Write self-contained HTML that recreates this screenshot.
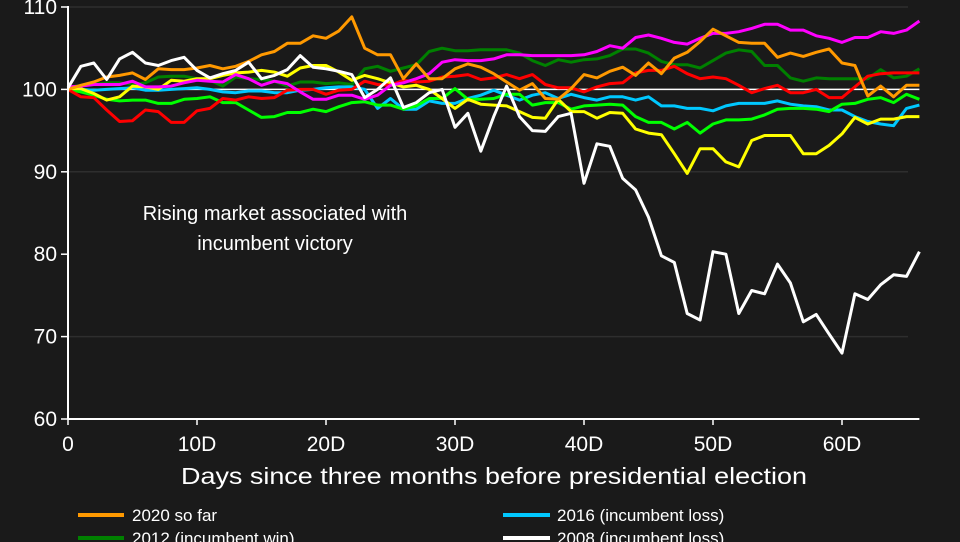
<!DOCTYPE html>
<html><head><meta charset="utf-8"><style>
html,body{margin:0;padding:0;background:#1a1a1a;}
svg{display:block;font-family:"Liberation Sans",sans-serif;}
</style></head><body>
<svg id="chart" width="960" height="542" viewBox="0 0 960 542" xmlns="http://www.w3.org/2000/svg">
<rect width="960" height="542" fill="#1a1a1a"/>
<g id="grid"></g>
<g id="series"></g>
<g id="axes"></g>
<text x="275" y="220" fill="#fff" font-size="20" text-anchor="middle">Rising market associated with</text>
<text x="275" y="250" fill="#fff" font-size="20" text-anchor="middle">incumbent victory</text>
<text x="494" y="484" fill="#fff" font-size="23" text-anchor="middle" textLength="626" lengthAdjust="spacingAndGlyphs">Days since three months before presidential election</text>
<g>
<g><line x1="78" y1="515" x2="124" y2="515" stroke="#ff9900" stroke-width="4"/><text x="132" y="521" fill="#fff" font-size="17">2020 so far</text></g>
<g><line x1="503" y1="515" x2="550" y2="515" stroke="#00c8ff" stroke-width="4"/><text x="557" y="521" fill="#fff" font-size="17">2016 (incumbent loss)</text></g>
<g><line x1="78" y1="538" x2="124" y2="538" stroke="#008000" stroke-width="4"/><text x="132" y="544" fill="#fff" font-size="17">2012 (incumbent win)</text></g>
<g><line x1="503" y1="538" x2="550" y2="538" stroke="#ffffff" stroke-width="4"/><text x="557" y="544" fill="#fff" font-size="17">2008 (incumbent loss)</text></g>
</g>
</svg>
<script>
const yTicks = [60, 70, 80, 90, 100, 110];
const xTicks = [0, 10, 20, 30, 40, 50, 60];
const xTickLabels = ["0", "10D", "20D", "30D", "40D", "50D", "60D"];
const gridValues = [110, 90, 70];
const s2012 = [100.2,100.5,100.6,100.8,100.8,100.6,100.8,101.5,101.6,101.6,101.3,101.1,100.4,101.5,101.3,101.2,101,100.4,100.9,100.9,100.7,100.8,100.6,102.5,102.8,102.2,102.6,103,104.6,105,104.7,104.7,104.8,104.8,104.8,104.4,103.5,102.9,103.6,103.3,103.6,103.7,104.1,104.9,104.9,104.4,103.4,103,103,102.6,103.5,104.4,104.8,104.6,102.9,102.9,101.4,101,101.4,101.3,101.3,101.3,101.3,102.4,101.4,101.6,102.5];
const s2016 = [100,100,99.9,100,100.1,100.2,99.9,99.9,100,100.1,100.2,100,99.7,99.6,99.8,99.8,99.6,99.6,99.9,100,100.2,100.3,100.3,100,97.7,98.9,97.6,97.6,98.6,98.3,98.3,98.9,99.3,99.9,99.3,98.7,99.3,99.6,98.9,99.4,99,98.7,99.1,99.1,98.7,99.1,98,98,97.7,97.7,97.4,98,98.3,98.3,98.3,98.6,98.2,98,97.9,97.5,97.5,96.7,96.1,95.8,95.6,97.7,98.1];
const sLime = [100,99.7,99.3,98.8,98.6,98.7,98.7,98.3,98.3,98.8,98.9,99.1,98.4,98.4,97.5,96.6,96.7,97.2,97.2,97.6,97.3,97.9,98.4,98.5,98.1,98.1,97.6,98,98.9,98.9,100.1,98.8,98.8,98.9,99.4,99.4,98.1,98.4,98.4,97.6,98,98.1,98.2,98.1,96.7,96,96,95.2,96,94.7,95.8,96.3,96.3,96.4,96.9,97.6,97.7,97.7,97.6,97.3,98.2,98.3,98.8,99,98.4,99.4,98.8];
const sYellow = [100.1,100.1,99.5,98.7,99.1,100.4,100.3,100,101.1,101,101.3,101.3,101.7,102,102.1,102.3,102.1,101.6,102.6,102.9,102.9,102.1,101.1,101.7,101.3,100.8,100.3,100.5,100,98.9,97.7,98.8,98.2,98.1,98,97.3,96.6,96.5,98.8,97.3,97.3,96.5,97.2,97.1,95.2,94.7,94.5,92.2,89.8,92.8,92.8,91.2,90.6,93.8,94.4,94.4,94.4,92.2,92.2,93.2,94.6,96.6,95.8,96.4,96.4,96.7,96.7];
const sRed = [100,99.1,99,97.5,96.1,96.2,97.5,97.3,96,96,97.4,97.7,98.9,98.7,99.1,98.9,99,99.9,100,100,99.4,99.9,100,101,100.6,100.5,101.1,100.9,101,101.5,101.6,101.8,101.2,101.4,101.8,101.3,101.8,100.6,100.2,100.2,99.7,100.3,100.7,100.8,102,102.3,102.3,102.8,101.9,101.3,101.5,101.3,100.5,99.6,100.1,100.5,99.6,99.6,100,99,99,100.3,101.6,101.9,102,102,102];
const sMagenta = [100.3,100.4,100.6,100.6,100.6,101,100.3,100.3,100.4,100.8,101.1,101,100.9,101.8,101.3,100.5,101,100.7,99.7,98.8,98.8,99.3,99.3,98.8,99.3,100.5,100.8,101.3,101.9,103.3,103.6,103.5,103.5,103.7,104.2,104.2,104.1,104.1,104.1,104.1,104.2,104.6,105.3,105,106.3,106.6,106.2,105.7,105.5,106.2,106.8,106.8,107,107.4,107.9,107.9,107.2,107.2,106.5,106.2,105.7,106.3,106.3,107,106.8,107.2,108.3];
const s2020 = [100,100.5,100.9,101.5,101.7,102,101.2,102.5,102.4,102.4,102.6,102.9,102.5,102.8,103.4,104.2,104.6,105.6,105.6,106.5,106.2,107.1,108.8,105,104.2,104.2,101.3,103.1,101.3,101.3,102.5,103.1,102.7,101.9,100.9,99.9,100.7,98.9,98.8,100.1,101.8,101.4,102.2,102.7,101.7,103.2,101.9,103.8,104.5,105.8,107.3,106.5,105.7,105.6,105.6,103.9,104.4,104,104.5,104.9,103.2,102.9,99.2,100.4,99.1,100.5,100.5];
const s2008 = [100.2,102.8,103.2,101.2,103.7,104.5,103.2,102.9,103.5,103.9,102.3,101.4,101.9,102.3,103.3,101.3,101.7,102.4,104.1,102.7,102.5,102.2,101.8,99,100,101.4,97.8,98.4,99.6,100,95.4,97.1,92.5,96.7,100.4,96.7,95,94.9,96.7,97.1,88.6,93.4,93.1,89.2,87.8,84.5,79.8,79,72.8,72,80.3,80,72.8,75.6,75.2,78.8,76.5,71.8,72.7,70.3,68,75.2,74.5,76.3,77.5,77.3,80.3];

const NS = "http://www.w3.org/2000/svg";
const X0 = 68, X1 = 919.4, XMAX = 66, Y60 = 419, Y110 = 7;
function xScale(d){ return X0 + (X1 - X0) * d / XMAX; }
function yScale(v){ return Y60 - (v - 60) * (Y60 - Y110) / 50; }
function mk(tag, attrs, parent){ const e = document.createElementNS(NS, tag); for (const k in attrs) e.setAttribute(k, attrs[k]); parent.appendChild(e); return e; }

const grid = document.getElementById('grid');
gridValues.forEach(v => {
  const l = mk('line', {x1: X0, x2: 908, y1: yScale(v), y2: yScale(v), stroke: '#2e2e2e', 'stroke-width': 1.5}, grid);
  
  
});
const base = mk('line', {x1: X0, x2: X1, y1: yScale(100), y2: yScale(100), stroke: '#fff', 'stroke-width': 1.5}, grid);



const seriesG = document.getElementById('series');
const seriesList = [
  ['series-2012', s2012, '#008000'],
  ['series-2016', s2016, '#00c8ff'],
  ['series-lime', sLime, '#00ff00'],
  ['series-yellow', sYellow, '#ffff00'],
  ['series-red', sRed, '#ff0000'],
  ['series-magenta', sMagenta, '#ff00ff'],
  ['series-2020', s2020, '#ff9900'],
  ['series-2008', s2008, '#ffffff']
];
seriesList.forEach(([name, data, color]) => {
  const pts = data.map((v, i) => xScale(i).toFixed(1) + ',' + yScale(v).toFixed(1)).join(' ');
  const p = mk('polyline', {points: pts, fill: 'none', stroke: color, 'stroke-width': 3, 'stroke-linejoin': 'round'}, seriesG);
  
  
});

const axes = document.getElementById('axes');
const ya = mk('line', {x1: X0, x2: X0, y1: 6, y2: Y60, stroke: '#fff', 'stroke-width': 2}, axes);


const xa = mk('line', {x1: X0, x2: X1, y1: Y60, y2: Y60, stroke: '#fff', 'stroke-width': 2}, axes);


yTicks.forEach(v => {
  const y = yScale(v);
  const t = mk('line', {x1: 61, x2: X0, y1: y, y2: y, stroke: '#fff', 'stroke-width': 1.5}, axes);
  
  
  const tx = mk('text', {x: 57, y: y + 7, fill: '#fff', 'font-size': 21, 'text-anchor': 'end'}, axes);
  tx.textContent = String(v);
  
  
});
xTicks.forEach((d, i) => {
  const x = xScale(d);
  const t = mk('line', {x1: x, x2: x, y1: Y60, y2: Y60 + 6, stroke: '#fff', 'stroke-width': 1.5}, axes);
  
  
  const tx = mk('text', {x: x, y: 451, fill: '#fff', 'font-size': 21, 'text-anchor': 'middle'}, axes);
  tx.textContent = xTickLabels[i];
  
  
});
</script>
</body></html>
